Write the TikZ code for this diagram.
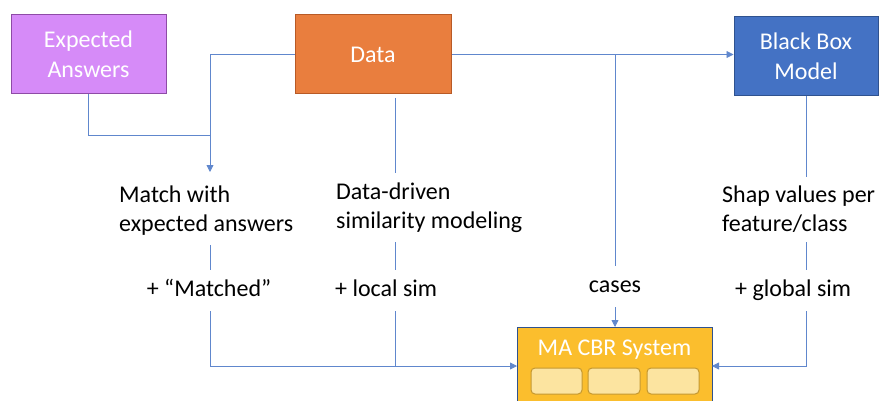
\documentclass[tikz,border=0pt]{standalone}
\usepackage{fontspec}
\setmainfont{Carlito}
\usepackage{tikz}
\usetikzlibrary{positioning,arrows.meta}
\definecolor{lineColor}{RGB}{68,114,196}
\definecolor{answerFill}{RGB}{214,139,248}
\definecolor{answerEdge}{RGB}{142,75,166}
\definecolor{dataFill}{RGB}{233,126,62}
\definecolor{dataEdge}{RGB}{184,90,38}
\definecolor{modelFill}{RGB}{68,114,196}
\definecolor{modelEdge}{RGB}{47,82,143}
\definecolor{systemFill}{RGB}{251,190,45}
\definecolor{slotFill}{RGB}{252,228,160}
\definecolor{slotEdge}{RGB}{196,152,48}
\tikzstyle{pixels} = [x = 1pt, y = -1pt]
\tikzstyle{boxStyle} = [draw, line width = 1pt, minimum height = 79pt, inner sep = 0pt, text = white, align = center, font = \fontsize{24}{30}\selectfont]
\tikzstyle{boxText} = [text = white, inner sep = 0pt, font = \fontsize{24}{30}\selectfont]
\tikzstyle{labelText} = [inner xsep = 0pt, inner ysep = 9pt, align = left, font = \fontsize{24}{29}\selectfont]
\tikzstyle{shortText} = [labelText, text height = 17pt, text depth = 6pt]
\tikzstyle{flowLine} = [draw = lineColor!85, line width = .8pt]
\tikzstyle{flowArrow} = [flowLine, -{Triangle[length = 7pt, width = 7pt]}]
\tikzstyle{slotStyle} = [draw = slotEdge, fill = slotFill, line width = 1pt, rounded corners = 4pt]
\newcommand{\slotBox}[2]{\filldraw [slotStyle] (#1, 368) rectangle + (#2, 26);}

\begin{document}
\begin{tikzpicture}[pixels]
  \useasboundingbox (0, 0) rectangle (880, 401);

  \node [boxStyle, fill = answerFill, draw = answerEdge, minimum width = 155pt] (answers) at (88.5, 54.5) {Expected\\Answers};
  \node [boxStyle, fill = dataFill, draw = dataEdge, minimum width = 156pt] (data) at (373, 54.5) {Data};
  \node [boxStyle, fill = modelFill, draw = modelEdge, minimum width = 144pt] (model) at (806, 56) {Black Box\\Model};
  \node [draw = modelEdge, fill = systemFill, line width = 1pt, minimum width = 195pt, minimum height = 90pt, anchor = north west] (system) at (517, 327) {};
  \node [boxText, anchor = base] (systemTitle) at (614.5, 355) {MA CBR System};
  \slotBox{531}{51}
  \slotBox{588}{52}
  \slotBox{647}{52}

  \node [labelText, anchor = north west] (matchText) at (119, 177) {Match with\\expected answers};
  \node [labelText, anchor = north west] (simText) at (336, 174) {Data-driven\\similarity modeling};
  \node [labelText, anchor = north west] (shapText) at (722, 177) {Shap values per\\feature/class};
  \node [shortText, anchor = base] (matchedText) at (209, 296) {+ “Matched”};
  \node [shortText, anchor = base west] (localText) at (335, 296) {+ local sim};
  \node [shortText, anchor = base] (casesText) at (615, 292) {cases};
  \node [shortText, anchor = base west] (globalText) at (735, 296) {+ global sim};

  \coordinate (matchIn) at (210, 172);
  \coordinate (joinA) at (210, 135);
  \coordinate (dataDown) at (395, 98);
  \coordinate (simIn) at (395, 173);
  \coordinate (casesSplit) at (615, 54.5);
  \coordinate (sysLeft) at (517, 366);
  \coordinate (sysRight) at (712, 366);

  \draw [flowArrow] (data.west) -| (matchIn);
  \draw [flowLine] (answers.south) |- (joinA);
  \draw [flowLine] (dataDown) -- (simIn);
  \draw [flowArrow] (data.east) -- (model.west |- data.east);
  \draw [flowLine] (casesSplit) -- (casesText.north);
  \draw [flowArrow] (casesText.south) -- (system.north -| casesText);
  \draw [flowLine] (model.south) -- (shapText.north -| model.south);

  \draw [flowLine] (matchText.south -| joinA) -- (matchedText.north -| joinA);
  \draw [flowLine] (simText.south -| simIn) -- (localText.north -| simIn);
  \draw [flowLine] (shapText.south -| model.south) -- (globalText.north -| model.south);

  \draw [flowArrow] (matchedText.south -| joinA) |- (sysLeft);
  \draw [flowLine] (localText.south -| simIn) -- (simIn |- sysLeft);
  \draw [flowArrow] (globalText.south -| model.south) |- (sysRight);
\end{tikzpicture}
\end{document}
